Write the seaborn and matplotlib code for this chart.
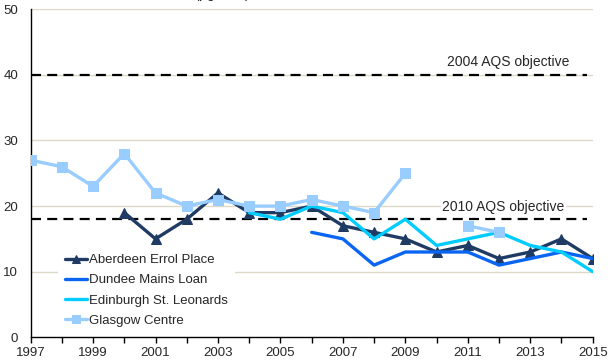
import numpy as np
import pandas as pd
import matplotlib.pyplot as plt
import seaborn as sns

# annual mean PM10 (ug/m3)
years = list(range(1997, 2016))
aberdeen = [np.nan, np.nan, np.nan, 19, 15, 18, 22, 19, 19, 20, 17, 16, 15, 13, 14, 12, 13, 15, 12]
dundee = [np.nan] * 9 + [16, 15, 11, 13, 13, 13, 11, 12, 13, 12]
edinburgh = [np.nan] * 7 + [19, 18, 20, 19, 15, 18, 14, 15, 16, 14, 13, 10]
glasgow = [27, 26, 23, 28, 22, 20, 21, 20, 20, 21, 20, 19, 25, np.nan, 17, 16, np.nan, np.nan, np.nan]

sites = ["Aberdeen Errol Place", "Dundee Mains Loan", "Edinburgh St. Leonards", "Glasgow Centre"]
colors = ["#1F3B63", "#0A66F2", "#00CCFF", "#99CCFF"]
markers = ["^", None, None, "s"]

objectives = [40, 18]
objective_labels = ["2004 AQS objective", "2010 AQS objective"]

xticks_major = list(range(1997, 2016, 2))
xticks_minor = list(range(1998, 2016, 2))
yticks = [0, 10, 20, 30, 40, 50]

sns.set_theme(style="white")
plt.rcParams["font.family"] = ["Liberation Sans", "DejaVu Sans"]

fig = plt.figure(figsize=(6.12, 3.61), dpi=100)
ax = fig.add_axes([0.050, 0.0657, 0.9185, 0.9086])

for y in yticks[1:]:
    ax.axhline(y, color="#DDD9C8", lw=1.0, zorder=0)

for val in objectives:
    ax.axhline(val, xmax=0.99, color="black", lw=1.6, dashes=(4.5, 2.8), zorder=1)

series = [aberdeen, dundee, edinburgh, glasgow]
for name, vals, col, mk in zip(sites, series, colors, markers):
    df = pd.DataFrame({"year": years, "value": vals})
    # split into contiguous runs so gaps stay gaps
    df["seg"] = df["value"].isna().cumsum()
    df = df.dropna()
    first = True
    for _, seg in df.groupby("seg"):
        sns.lineplot(data=seg, x="year", y="value", ax=ax, color=col, lw=2.4,
                     marker=mk, markersize=7 if mk == "^" else 6.5,
                     markeredgecolor=col, label=name if first else None,
                     zorder=3, legend=False)
        first = False

ax.text(2012.3, 42.0, objective_labels[0], ha="center", va="center", fontsize=10,
        bbox=dict(facecolor="white", edgecolor="none", pad=1))
ax.text(2012.13, 19.8, objective_labels[1], ha="center", va="center", fontsize=10,
        bbox=dict(facecolor="white", edgecolor="none", pad=1), zorder=2)

ax.set_xlim(1997, 2015)
ax.set_ylim(0, 50)
ax.set_xticks(xticks_major)
ax.set_xticks(xticks_minor, minor=True)
ax.set_yticks(yticks)
ax.tick_params(axis="x", which="both", direction="out", length=4, width=1,
               color="black", labelsize=9.5, pad=3, bottom=True)
ax.tick_params(axis="y", length=0, labelsize=9.5, pad=9)
ax.set_xlabel("")
ax.set_ylabel("")

for side in ["top", "right"]:
    ax.spines[side].set_visible(False)
for side in ["left", "bottom"]:
    ax.spines[side].set_color("black")
    ax.spines[side].set_linewidth(1.0)

handles, labels = ax.get_legend_handles_labels()
leg = ax.legend(handles, labels, loc="lower left", bbox_to_anchor=(0.042, 0.0),
                fontsize=9.5, frameon=True, facecolor="white", edgecolor="none",
                framealpha=1, handlelength=1.7, handletextpad=0.15,
                labelspacing=0.6, borderpad=0.5, borderaxespad=0.3,
                markerscale=0.8)

fig.text(0.363, 1.003, "(µg m$^{-3}$)", ha="center", va="baseline", fontsize=10)

fig.savefig("out.png", dpi=100)
